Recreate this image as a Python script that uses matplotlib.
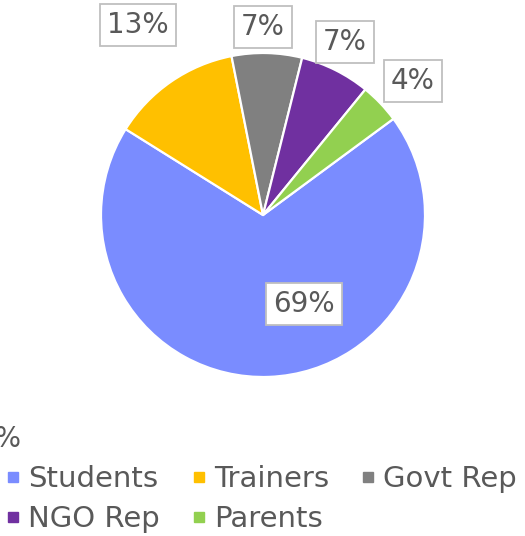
import matplotlib.pyplot as plt
from matplotlib.lines import Line2D

FontSize = 20
TextColor = '#595959'

categories = ['Students', 'Trainers', 'Govt Rep', 'NGO Rep', 'Parents']
shares = [69, 13, 7, 7, 4]
colors = ['#7A8CFF', '#FFC000', '#808080', '#7030A0', '#92D050']
pct_labels = ['69%', '13%', '7%', '7%', '4%']

# label centres, pixels from top-left of the picture
label_xy = [(304, 304), (138, 25), (263, 27), (345, 42), (413, 81)]

W, H = 525, 536
fig = plt.figure(figsize=(W / 100, H / 100), dpi=100)
ax = fig.add_axes([0, 0, 1, 1])

wedges, _ = ax.pie(shares, colors=colors, startangle=36.4, counterclock=False,
                   center=(263, H - 215), radius=162,
                   wedgeprops=dict(edgecolor='white', linewidth=1.6))
ax.set_xlim(0, W)
ax.set_ylim(0, H)
ax.set_aspect('auto')
ax.axis('off')

for (x, y), txt in zip(label_xy, pct_labels):
    ax.text(x, H - y, txt, ha='center', va='center', fontsize=FontSize, color=TextColor,
            bbox=dict(boxstyle='square,pad=0.26', facecolor='white', edgecolor='#BFBFBF', linewidth=1.3))

# label cut off at the left edge, as in the original
fig.text(21 / W, 1 - 439 / H, '0%', ha='right', va='center', fontsize=FontSize, color=TextColor)

# matplotlib fills legend columns first; reorder so rows read like the original
order = [0, 3, 1, 4, 2]
handles = [Line2D([], [], marker='s', linestyle='', color=colors[i], markersize=7.2) for i in order]
leg = fig.legend(handles, [categories[i] for i in order], ncol=3, loc='upper left',
                 bbox_to_anchor=(3 / W, 1 - 465 / H), bbox_transform=fig.transFigure,
                 frameon=False, fontsize=21, borderpad=0, borderaxespad=0,
                 handlelength=0.69, handletextpad=0.17, columnspacing=1.0, labelspacing=0.42)
for t in leg.get_texts():
    t.set_color(TextColor)

plt.savefig('out.png', dpi=100)
